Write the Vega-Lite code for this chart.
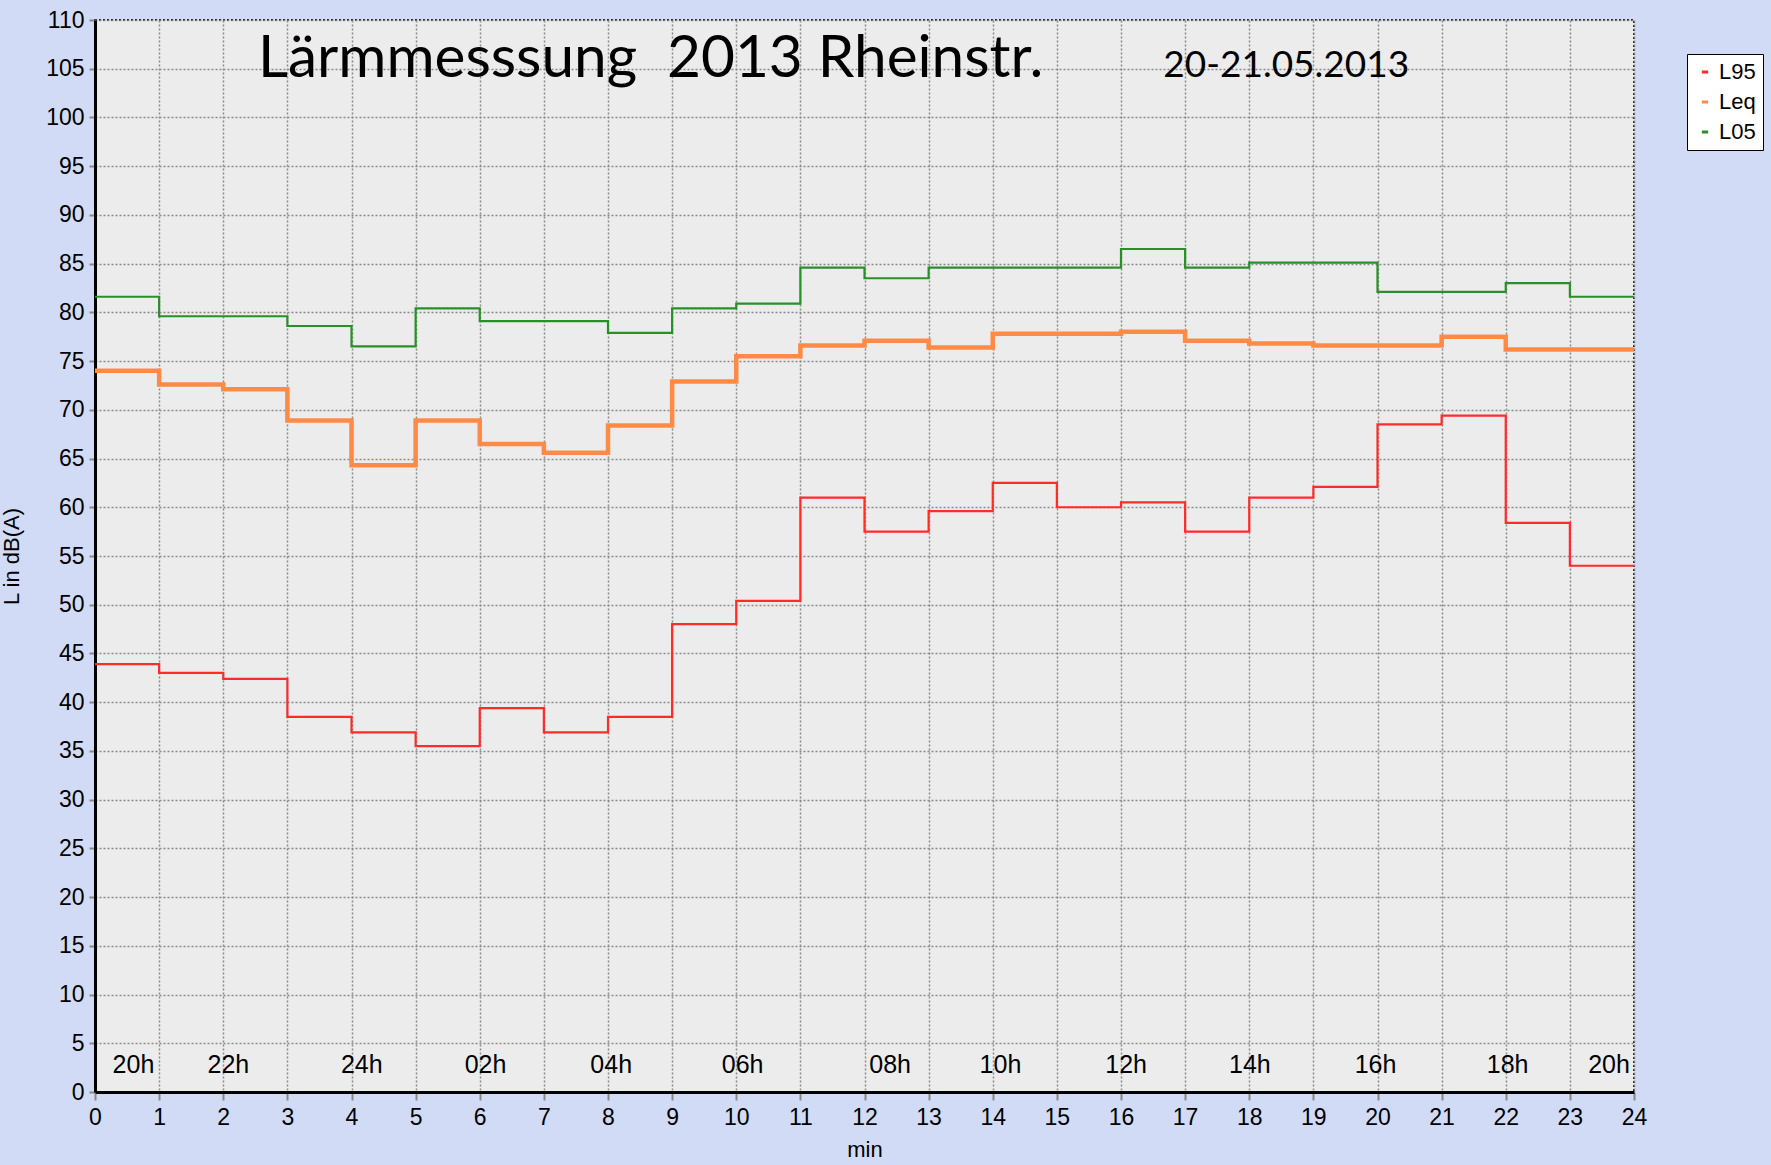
{
  "$schema": "https://vega.github.io/schema/vega-lite/v6.json",
  "width": 1539,
  "height": 1072,
  "autosize": {"type": "none"},
  "padding": {"left": 95, "top": 20, "right": 137, "bottom": 73},
  "background": "#d2dbf6",
  "config": {
    "view": {"fill": "#ececec", "stroke": "#222222", "strokeDash": [2, 2], "strokeWidth": 2},
    "font": "Liberation Sans",
    "axis": {
      "labelFont": "Liberation Sans", "labelFontSize": 23, "labelColor": "#000000",
      "titleFont": "Liberation Sans", "titleFontSize": 22, "titleFontWeight": "normal", "titleColor": "#000000",
      "gridColor": "#8a8a8a", "gridDash": [2, 2], "gridWidth": 1.5, "gridOpacity": 1,
      "domainColor": "#000000", "domainWidth": 3,
      "tickColor": "#888888", "tickWidth": 2
    }
  },
  "datasets": {
    "series": [
      {"t": 0, "v": 43.9, "s": "L95"}, {"t": 1, "v": 43.0, "s": "L95"}, {"t": 2, "v": 42.4, "s": "L95"},
      {"t": 3, "v": 38.5, "s": "L95"}, {"t": 4, "v": 36.9, "s": "L95"}, {"t": 5, "v": 35.5, "s": "L95"},
      {"t": 6, "v": 39.4, "s": "L95"}, {"t": 7, "v": 36.9, "s": "L95"}, {"t": 8, "v": 38.5, "s": "L95"},
      {"t": 9, "v": 48.0, "s": "L95"}, {"t": 10, "v": 50.4, "s": "L95"}, {"t": 11, "v": 61.0, "s": "L95"},
      {"t": 12, "v": 57.5, "s": "L95"}, {"t": 13, "v": 59.6, "s": "L95"}, {"t": 14, "v": 62.5, "s": "L95"},
      {"t": 15, "v": 60.0, "s": "L95"}, {"t": 16, "v": 60.5, "s": "L95"}, {"t": 17, "v": 57.5, "s": "L95"},
      {"t": 18, "v": 61.0, "s": "L95"}, {"t": 19, "v": 62.1, "s": "L95"}, {"t": 20, "v": 68.5, "s": "L95"},
      {"t": 21, "v": 69.4, "s": "L95"}, {"t": 22, "v": 58.4, "s": "L95"}, {"t": 23, "v": 54.0, "s": "L95"},
      {"t": 24, "v": 54.0, "s": "L95"},
      {"t": 0, "v": 74.0, "s": "Leq"}, {"t": 1, "v": 72.6, "s": "Leq"}, {"t": 2, "v": 72.1, "s": "Leq"},
      {"t": 3, "v": 68.9, "s": "Leq"}, {"t": 4, "v": 64.3, "s": "Leq"}, {"t": 5, "v": 68.9, "s": "Leq"},
      {"t": 6, "v": 66.5, "s": "Leq"}, {"t": 7, "v": 65.6, "s": "Leq"}, {"t": 8, "v": 68.4, "s": "Leq"},
      {"t": 9, "v": 72.9, "s": "Leq"}, {"t": 10, "v": 75.5, "s": "Leq"}, {"t": 11, "v": 76.6, "s": "Leq"},
      {"t": 12, "v": 77.1, "s": "Leq"}, {"t": 13, "v": 76.4, "s": "Leq"}, {"t": 14, "v": 77.8, "s": "Leq"},
      {"t": 15, "v": 77.8, "s": "Leq"}, {"t": 16, "v": 78.0, "s": "Leq"}, {"t": 17, "v": 77.1, "s": "Leq"},
      {"t": 18, "v": 76.8, "s": "Leq"}, {"t": 19, "v": 76.6, "s": "Leq"}, {"t": 20, "v": 76.6, "s": "Leq"},
      {"t": 21, "v": 77.5, "s": "Leq"}, {"t": 22, "v": 76.2, "s": "Leq"}, {"t": 23, "v": 76.2, "s": "Leq"},
      {"t": 24, "v": 76.2, "s": "Leq"},
      {"t": 0, "v": 81.6, "s": "L05"}, {"t": 1, "v": 79.6, "s": "L05"}, {"t": 2, "v": 79.6, "s": "L05"},
      {"t": 3, "v": 78.6, "s": "L05"}, {"t": 4, "v": 76.5, "s": "L05"}, {"t": 5, "v": 80.4, "s": "L05"},
      {"t": 6, "v": 79.1, "s": "L05"}, {"t": 7, "v": 79.1, "s": "L05"}, {"t": 8, "v": 77.9, "s": "L05"},
      {"t": 9, "v": 80.4, "s": "L05"}, {"t": 10, "v": 80.9, "s": "L05"}, {"t": 11, "v": 84.6, "s": "L05"},
      {"t": 12, "v": 83.5, "s": "L05"}, {"t": 13, "v": 84.6, "s": "L05"}, {"t": 14, "v": 84.6, "s": "L05"},
      {"t": 15, "v": 84.6, "s": "L05"}, {"t": 16, "v": 86.5, "s": "L05"}, {"t": 17, "v": 84.6, "s": "L05"},
      {"t": 18, "v": 85.1, "s": "L05"}, {"t": 19, "v": 85.1, "s": "L05"}, {"t": 20, "v": 82.1, "s": "L05"},
      {"t": 21, "v": 82.1, "s": "L05"}, {"t": 22, "v": 83.0, "s": "L05"}, {"t": 23, "v": 81.6, "s": "L05"},
      {"t": 24, "v": 81.6, "s": "L05"}
    ],
    "hours": [
      {"t": 0.6, "v": 2.8, "h": "20h"}, {"t": 2.08, "v": 2.8, "h": "22h"}, {"t": 4.16, "v": 2.8, "h": "24h"},
      {"t": 6.09, "v": 2.8, "h": "02h"}, {"t": 8.05, "v": 2.8, "h": "04h"}, {"t": 10.1, "v": 2.8, "h": "06h"},
      {"t": 12.4, "v": 2.8, "h": "08h"}, {"t": 14.12, "v": 2.8, "h": "10h"}, {"t": 16.08, "v": 2.8, "h": "12h"},
      {"t": 18.01, "v": 2.8, "h": "14h"}, {"t": 19.97, "v": 2.8, "h": "16h"}, {"t": 22.03, "v": 2.8, "h": "18h"},
      {"t": 23.61, "v": 2.8, "h": "20h"}
    ],
    "titles": [
      {"t": 2.54, "v": 104.2, "txt": "Lärmmesssung\u00a0 2013 Rheinstr.", "size": 58.5},
      {"t": 16.66, "v": 104.2, "txt": "20-21.05.2013", "size": 37}
    ]
  },
  "layer": [
    {
      "data": {"name": "series"},
      "mark": {"type": "line", "interpolate": "step-after"},
      "encoding": {
        "x": {
          "field": "t", "type": "quantitative",
          "scale": {"domain": [0, 24], "nice": false, "zero": false},
          "axis": {"values": [0,1,2,3,4,5,6,7,8,9,10,11,12,13,14,15,16,17,18,19,20,21,22,23,24],
                   "title": "min", "tickSize": 8, "labelPadding": 6, "titlePadding": 10, "format": "d", "labelFlush": false}
        },
        "y": {
          "field": "v", "type": "quantitative",
          "scale": {"domain": [0, 110], "nice": false},
          "axis": {"values": [0,5,10,15,20,25,30,35,40,45,50,55,60,65,70,75,80,85,90,95,100,105,110],
                   "title": "L in dB(A)", "tickSize": 6, "labelPadding": 5, "titleX": -72, "format": "d"}
        },
        "color": {
          "field": "s", "type": "nominal",
          "scale": {"domain": ["L95", "Leq", "L05"], "range": ["#ff2a2a", "#ff8a45", "#2a8f2a"]},
          "legend": {
            "title": null, "orient": "none", "legendX": 1592, "legendY": 34,
            "fillColor": "#ffffff", "strokeColor": "#000000", "padding": 7,
            "symbolType": "stroke", "symbolSize": 40, "symbolStrokeWidth": 3,
            "labelFont": "Liberation Sans", "labelFontSize": 22, "labelColor": "#000000",
            "rowPadding": 8, "labelOffset": 3
          }
        },
        "strokeWidth": {
          "condition": {"test": "datum.s === 'Leq'", "value": 4.5},
          "value": 2.2
        }
      }
    },
    {
      "data": {"name": "hours"},
      "mark": {"type": "text", "font": "Liberation Sans", "fontSize": 25, "color": "#000000", "align": "center", "baseline": "middle"},
      "encoding": {
        "x": {"field": "t", "type": "quantitative"},
        "y": {"field": "v", "type": "quantitative"},
        "text": {"field": "h"}
      }
    },
    {
      "data": {"name": "titles"},
      "mark": {"type": "text", "font": "Lato", "color": "#000000", "align": "left", "baseline": "alphabetic"},
      "encoding": {
        "x": {"field": "t", "type": "quantitative"},
        "y": {"field": "v", "type": "quantitative"},
        "text": {"field": "txt"},
        "size": {"field": "size", "type": "quantitative", "scale": null, "legend": null}
      }
    }
  ]
}
